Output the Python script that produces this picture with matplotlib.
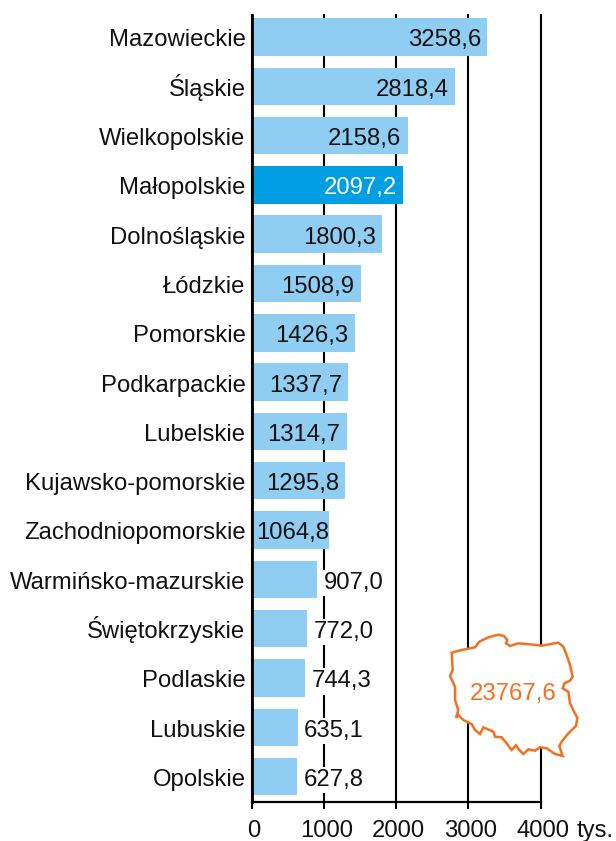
import matplotlib
matplotlib.use('Agg')
import matplotlib.pyplot as plt
from matplotlib.transforms import ScaledTranslation

plt.rcParams['font.family'] = ['Liberation Sans', 'DejaVu Sans']

regions = ['Mazowieckie', 'Śląskie', 'Wielkopolskie', 'Małopolskie', 'Dolnośląskie',
           'Łódzkie', 'Pomorskie', 'Podkarpackie', 'Lubelskie', 'Kujawsko-pomorskie',
           'Zachodniopomorskie', 'Warmińsko-mazurskie', 'Świętokrzyskie', 'Podlaskie',
           'Lubuskie', 'Opolskie']
values = [3258.6, 2818.4, 2158.6, 2097.2, 1800.3, 1508.9, 1426.3, 1337.7,
          1314.7, 1295.8, 1064.8, 907.0, 772.0, 744.3, 635.1, 627.8]
xticks = [0, 1000, 2000, 3000, 4000]
total = '23767,6'

# outline of Poland
outline_x = [65, 95, 135, 148, 175, 205, 222, 232, 228, 240, 265, 300, 335, 385, 400, 408,
             420, 428, 420, 403, 398, 415, 420, 432, 442, 438, 415, 395, 388, 395, 398, 375,
             350, 330, 315, 295, 280, 268, 258, 245, 230, 215, 195, 190, 160, 150, 135, 125,
             100, 85, 78, 85, 75, 75, 60, 68, 65]
outline_y = [98, 90, 82, 65, 52, 44, 48, 60, 70, 78, 70, 73, 77, 68, 80, 100,
             135, 170, 182, 190, 205, 215, 250, 275, 293, 318, 340, 365, 378, 400, 408, 402,
             385, 382, 392, 388, 402, 390, 376, 390, 370, 352, 350, 335, 322, 342, 330, 312,
             300, 285, 293, 270, 240, 200, 168, 150, 98]

W, H = 616, 841
LIGHT = '#8FCDF2'
DARK = '#009FE3'
ORANGE = '#F36F21'
FS = 17.2
DROP = -6.8  # baseline of the row texts below the bar centre, points

fig = plt.figure(figsize=(W / 100, H / 100), dpi=100)
ax = fig.add_axes([251.7 / W, 1 - 801.7 / H, 289 / W, 786.7 / H])

ypos = list(range(len(regions)))
colors = [DARK if r == 'Małopolskie' else LIGHT for r in regions]
ax.barh(ypos, values, height=0.76, color=colors, zorder=3)

ax.set_xlim(0, 4000)
ax.set_ylim(15.51, -0.446)
ax.set_xticks(xticks)
ax.set_xticklabels([str(t) for t in xticks], fontsize=FS)
ax.set_yticks(ypos)
ax.set_yticklabels(regions, fontsize=FS, color='#111111', va='baseline')
ax.tick_params(axis='y', length=0, pad=4.5)
ax.tick_params(axis='x', length=5, width=1.5, pad=8, color='black')

# accents move the label centre, so hang the names on a common baseline
down = ScaledTranslation(0, DROP / 72, fig.dpi_scale_trans)
for lab in ax.get_yticklabels():
    lab.set_transform(lab.get_transform() + down)
shift = ScaledTranslation(2.5 / 100, 0, fig.dpi_scale_trans)
for lab in ax.get_xticklabels():
    lab.set_transform(lab.get_transform() + shift)
    lab.set_color('#111111')

ax.grid(axis='x', color='black', lw=1.5, zorder=1)
for line in ax.get_xgridlines():
    line.set_clip_on(False)
ax.set_axisbelow(True)
for s in ['top', 'right']:
    ax.spines[s].set_visible(False)
ax.spines['left'].set_linewidth(2)
ax.spines['bottom'].set_linewidth(1.6)
ax.spines['left'].set_zorder(4)

for i, (r, v) in enumerate(zip(regions, values)):
    txt = f'{v:.1f}'.replace('.', ',')
    if v < 1000:
        ax.annotate(txt, (v, i), xytext=(4.5, DROP), textcoords='offset points', ha='left',
                    va='baseline', fontsize=FS, color='#111111', zorder=5,
                    bbox=dict(fc='white', ec='none', pad=1.5))
    else:
        off = 0 if v < 1100 else -4.5
        col = 'white' if r == 'Małopolskie' else '#111111'
        ax.annotate(txt, (v, i), xytext=(off, DROP), textcoords='offset points', ha='right',
                    va='baseline', fontsize=FS, color=col, zorder=5)

fig.text(577 / W, 1 - 836.5 / H, 'tys.', fontsize=FS, color='#111111', va='baseline')

# map inset, same scale as the zoomed crop
inset = fig.add_axes([430 / W, 1 - 770 / H, 170 / W, 150 / H], zorder=6)
inset.patch.set_alpha(0)
inset.axis('off')
inset.set_xlim(0, 510)
inset.set_ylim(450, 0)
inset.fill(outline_x, outline_y, fc='white', ec=ORANGE, lw=1.8)
inset.text(248, 215, total, color=ORANGE, fontsize=FS, ha='center', va='center_baseline')

fig.savefig('out.png', dpi=100)
